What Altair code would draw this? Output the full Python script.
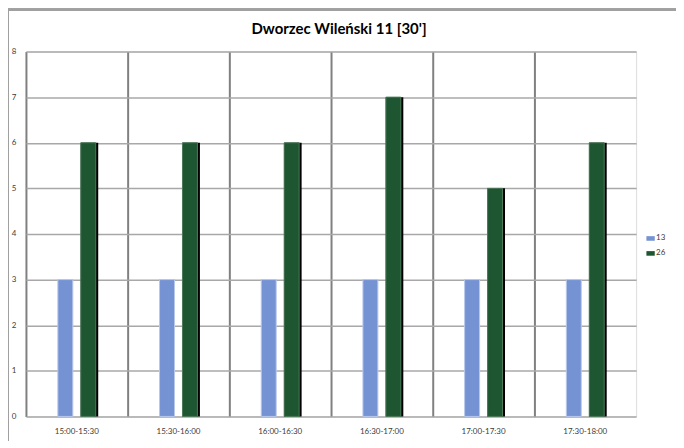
import altair as alt
import pandas as pd

categories = ["15:00-15:30", "15:30-16:00", "16:00-16:30", "16:30-17:00", "17:00-17:30", "17:30-18:00"]
series_13 = [3, 3, 3, 3, 3, 3]
series_26 = [6, 6, 6, 7, 5, 6]
series_names = ["13", "26"]
y_ticks = [0, 1, 2, 3, 4, 5, 6, 7, 8]
title_text = "Dworzec Wileński 11 [30']"

rows = []
for c, v in zip(categories, series_13):
    rows.append({"cat": c, "series": "13", "value": v})
for c, v in zip(categories, series_26):
    rows.append({"cat": c, "series": "26", "value": v})
df = pd.DataFrame(rows)

FONT = "Lato"

x_enc = alt.X("cat:N", sort=categories, title=None,
              scale=alt.Scale(paddingInner=0, paddingOuter=0),
              axis=alt.Axis(labelAngle=0, labelFontSize=8, labelColor="#404040", labelFont=FONT,
                            ticks=False, domain=False, grid=True, bandPosition=0,
                            gridColor="#808080", gridWidth=2, labelPadding=11))
y_enc = alt.Y("value:Q", title=None,
              scale=alt.Scale(domain=[0, 8], nice=False),
              axis=alt.Axis(values=y_ticks, labelFontSize=8, labelColor="#404040", labelFont=FONT,
                            ticks=False, domain=False, grid=True, gridColor="#a8a8a8",
                            gridWidth=1.5, labelPadding=10))
xoff = alt.XOffset("series:N",
                   scale=alt.Scale(domain=["_a", "13", "26", "_b"], paddingInner=0.348, paddingOuter=0.391))
xoff_shadow = alt.XOffset("series:N",
                          scale=alt.Scale(domain=["_a", "13", "26", "_b"], paddingInner=0.314, paddingOuter=0.157))

shadow = alt.Chart(df).transform_filter(alt.datum.series == "26").mark_bar(
    color="black", opacity=1
).encode(x=x_enc, y=y_enc, xOffset=xoff_shadow)

bars = alt.Chart(df).mark_bar(strokeWidth=1).encode(
    x=x_enc, y=y_enc, xOffset=xoff,
    color=alt.Color("series:N", sort=series_names,
                    scale=alt.Scale(domain=series_names, range=["#7592d3", "#1f5632"]),
                    legend=alt.Legend(title=None, orient="none", legendX=622, legendY=183,
                                      labelFontSize=8, labelFont=FONT, labelColor="#404040",
                                      symbolType="M-1,-0.55H1V0.55H-1Z", symbolSize=70,
                                      symbolStrokeWidth=0, rowPadding=6, labelOffset=1)),
    stroke=alt.Stroke("series:N", sort=series_names,
                      scale=alt.Scale(domain=series_names, range=["#b8c8ec", "#4d7a5a"]),
                      legend=None),
)

frame_left = alt.Chart(df).mark_rule(color="#a0a0a0", strokeWidth=2).encode(
    x=alt.value(-18), y=alt.value(-42), y2=alt.value(392))
frame_top = alt.Chart(df).mark_rule(color="#a0a0a0", strokeWidth=2).encode(
    x=alt.value(-18), x2=alt.value(660), y=alt.value(-42))

title = alt.Chart(pd.DataFrame({"t": [title_text]})).mark_text(
    font=FONT, fontSize=15, fontWeight="bold", color="#000000", align="center", baseline="middle"
).encode(text="t:N", x=alt.value(314), y=alt.value(-23))

chart = alt.layer(frame_left, frame_top, shadow, bars, title).resolve_scale(
    xOffset="independent"
).properties(
    width=612, height=366,
    autosize=alt.AutoSizeParams(type="none"),
    padding={"left": 18, "top": 43, "right": 40, "bottom": 24},
).configure_view(stroke="black", strokeWidth=2).configure(background="white")

chart.save("out.html", embed_options={"renderer": "svg", "actions": False})
